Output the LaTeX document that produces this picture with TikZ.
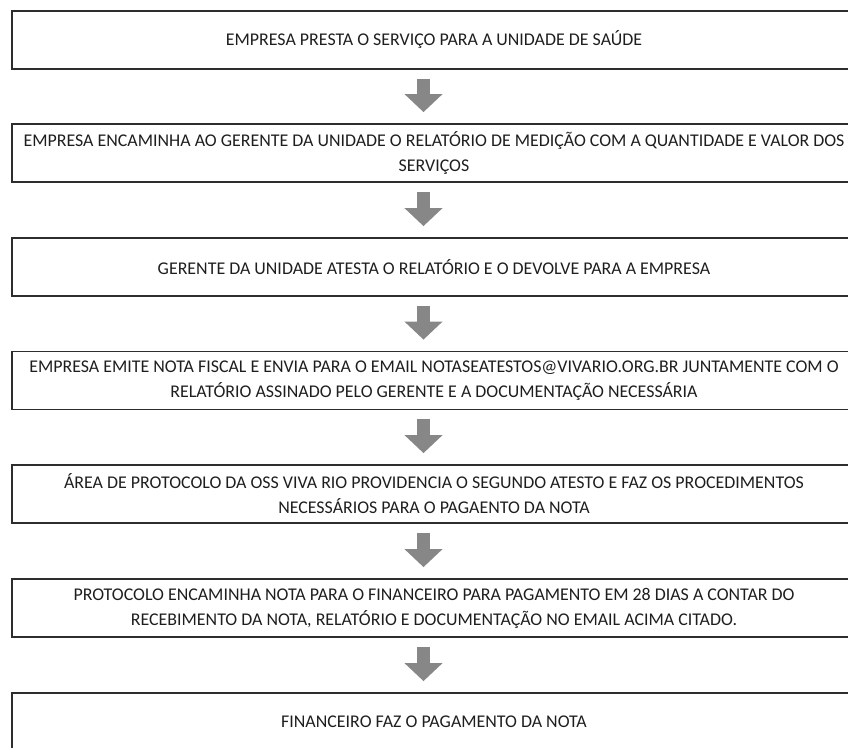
\documentclass[tikz,border=0pt]{standalone}
\usepackage{fontspec}
\setmainfont{Carlito}
\usetikzlibrary{arrows.meta}
\definecolor{arrowgray}{RGB}{135,135,135}
\definecolor{boxline}{RGB}{45,45,45}
\definecolor{inktext}{RGB}{30,30,30}
\begin{document}
\begin{tikzpicture}[x=1pt,y=1pt,
  stepbox/.style={draw=boxline, line width=1.8pt, minimum width=844pt, minimum height=58pt,
    inner sep=0pt, align=center, font=\fontsize{17.9}{25}\selectfont, text=inktext},
  flowarrow/.style={draw=arrowgray, line width=13pt, -{Triangle[width=37pt,length=18pt]},
    shorten <=9pt, shorten >=11pt}]
\useasboundingbox (0,0) rectangle (848,-747);
\clip (0,0) rectangle (848,-747);
\node[stepbox] (s1) at (434,-40) {EMPRESA PRESTA O SERVIÇO PARA A UNIDADE DE SAÚDE};
\node[stepbox] (s2) at (434,-153) {EMPRESA ENCAMINHA AO GERENTE DA UNIDADE O RELATÓRIO DE MEDIÇÃO COM A QUANTIDADE E VALOR DOS\\SERVIÇOS};
\node[stepbox] (s3) at (434,-267) {GERENTE DA UNIDADE ATESTA O RELATÓRIO E O DEVOLVE PARA A EMPRESA};
\node[stepbox] (s4) at (434,-380.5) {EMPRESA EMITE NOTA FISCAL E ENVIA PARA O EMAIL NOTASEATESTOS@VIVARIO.ORG.BR JUNTAMENTE COM O\\RELATÓRIO ASSINADO PELO GERENTE E A DOCUMENTAÇÃO NECESSÁRIA};
\node[stepbox] (s5) at (434,-494) {ÁREA DE PROTOCOLO DA OSS VIVA RIO PROVIDENCIA O SEGUNDO ATESTO E FAZ OS PROCEDIMENTOS\\NECESSÁRIOS PARA O PAGAENTO DA NOTA};
\node[stepbox] (s6) at (434,-608) {PROTOCOLO ENCAMINHA NOTA PARA O FINANCEIRO PARA PAGAMENTO EM 28 DIAS A CONTAR DO\\RECEBIMENTO DA NOTA, RELATÓRIO E DOCUMENTAÇÃO NO EMAIL ACIMA CITADO.};
\node[stepbox] (s7) at (434,-722) {FINANCEIRO FAZ O PAGAMENTO DA NOTA};
\coordinate (ax) at (423.5,0);
\draw[flowarrow] (s1.south -| ax) -- (s2.north -| ax);
\draw[flowarrow] (s2.south -| ax) -- (s3.north -| ax);
\draw[flowarrow] (s3.south -| ax) -- (s4.north -| ax);
\draw[flowarrow] (s4.south -| ax) -- (s5.north -| ax);
\draw[flowarrow] (s5.south -| ax) -- (s6.north -| ax);
\draw[flowarrow] (s6.south -| ax) -- (s7.north -| ax);
\end{tikzpicture}
\end{document}
